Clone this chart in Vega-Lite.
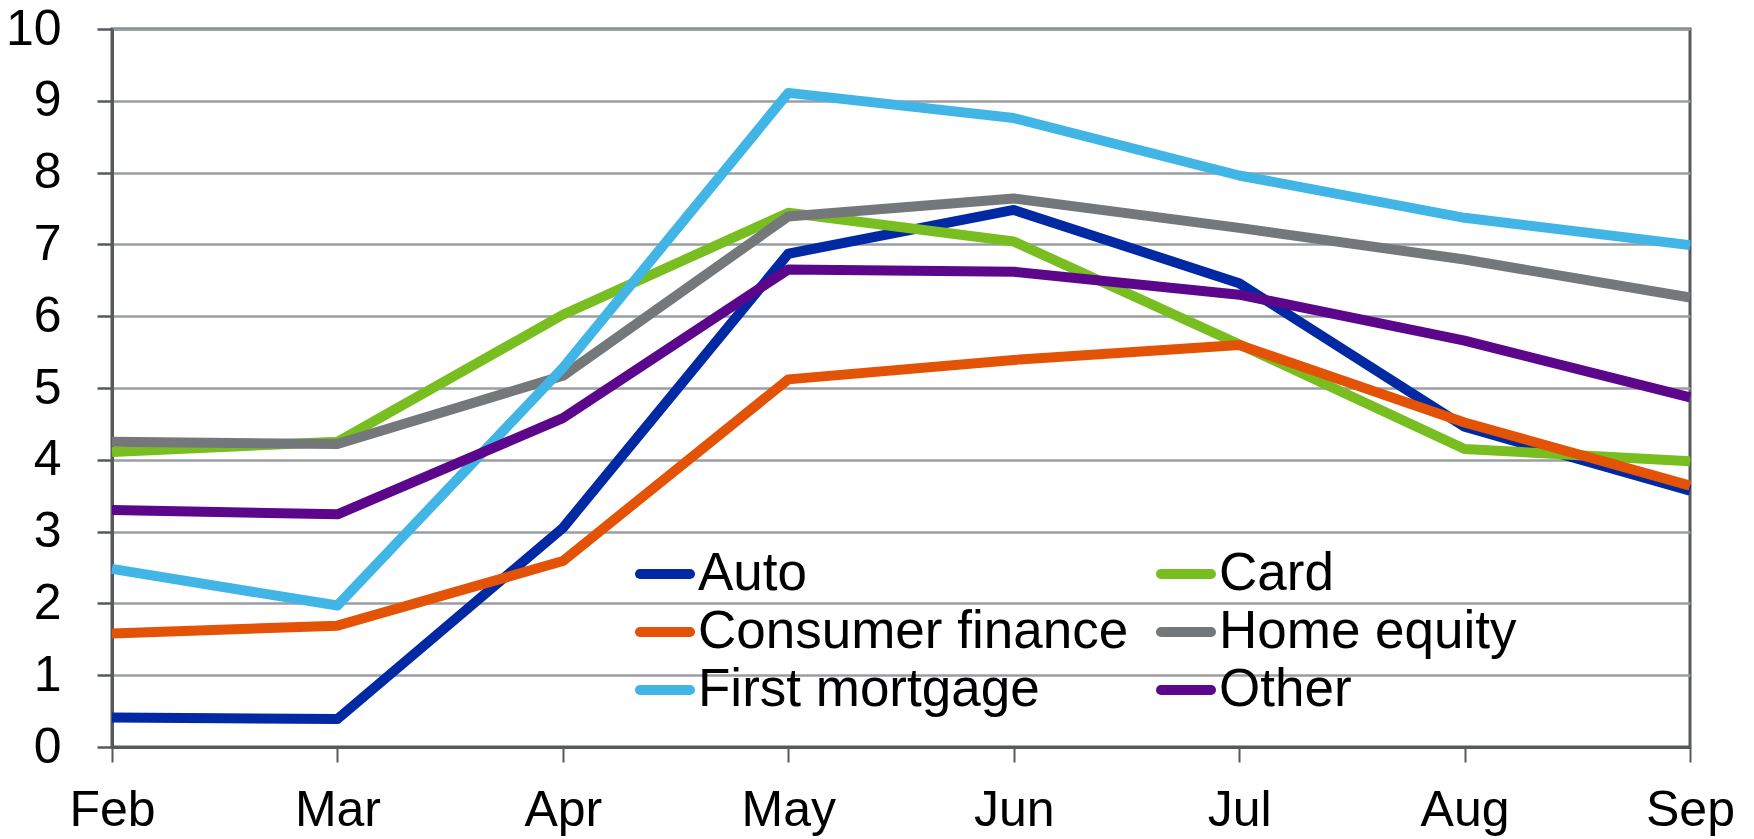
{
  "$schema": "https://vega.github.io/schema/vega-lite/v6.json",
  "width": 1578,
  "height": 718,
  "autosize": "none",
  "padding": {"left": 112, "top": 29, "right": 64, "bottom": 92},
  "background": "white",
  "config": {
    "font": "Liberation Sans",
    "view": {"stroke": "#55585c", "strokeWidth": 3}
  },
  "data": {
    "values": [
      {"month": "Feb", "series": "Auto", "value": 0.41},
      {"month": "Mar", "series": "Auto", "value": 0.39},
      {"month": "Apr", "series": "Auto", "value": 3.05},
      {"month": "May", "series": "Auto", "value": 6.87},
      {"month": "Jun", "series": "Auto", "value": 7.48},
      {"month": "Jul", "series": "Auto", "value": 6.46},
      {"month": "Aug", "series": "Auto", "value": 4.46},
      {"month": "Sep", "series": "Auto", "value": 3.57},
      {"month": "Feb", "series": "Card", "value": 4.11},
      {"month": "Mar", "series": "Card", "value": 4.25},
      {"month": "Apr", "series": "Card", "value": 6.02},
      {"month": "May", "series": "Card", "value": 7.44},
      {"month": "Jun", "series": "Card", "value": 7.04},
      {"month": "Jul", "series": "Card", "value": 5.61},
      {"month": "Aug", "series": "Card", "value": 4.15},
      {"month": "Sep", "series": "Card", "value": 3.98},
      {"month": "Feb", "series": "Consumer finance", "value": 1.58},
      {"month": "Mar", "series": "Consumer finance", "value": 1.69},
      {"month": "Apr", "series": "Consumer finance", "value": 2.59},
      {"month": "May", "series": "Consumer finance", "value": 5.12},
      {"month": "Jun", "series": "Consumer finance", "value": 5.39},
      {"month": "Jul", "series": "Consumer finance", "value": 5.60},
      {"month": "Aug", "series": "Consumer finance", "value": 4.52},
      {"month": "Sep", "series": "Consumer finance", "value": 3.64},
      {"month": "Feb", "series": "Home equity", "value": 4.25},
      {"month": "Mar", "series": "Home equity", "value": 4.22},
      {"month": "Apr", "series": "Home equity", "value": 5.17},
      {"month": "May", "series": "Home equity", "value": 7.39},
      {"month": "Jun", "series": "Home equity", "value": 7.64},
      {"month": "Jul", "series": "Home equity", "value": 7.23},
      {"month": "Aug", "series": "Home equity", "value": 6.79},
      {"month": "Sep", "series": "Home equity", "value": 6.26},
      {"month": "Feb", "series": "First mortgage", "value": 2.48},
      {"month": "Mar", "series": "First mortgage", "value": 1.97},
      {"month": "Apr", "series": "First mortgage", "value": 5.28},
      {"month": "May", "series": "First mortgage", "value": 9.11},
      {"month": "Jun", "series": "First mortgage", "value": 8.76},
      {"month": "Jul", "series": "First mortgage", "value": 7.96},
      {"month": "Aug", "series": "First mortgage", "value": 7.37},
      {"month": "Sep", "series": "First mortgage", "value": 6.99},
      {"month": "Feb", "series": "Other", "value": 3.30},
      {"month": "Mar", "series": "Other", "value": 3.24},
      {"month": "Apr", "series": "Other", "value": 4.58},
      {"month": "May", "series": "Other", "value": 6.65},
      {"month": "Jun", "series": "Other", "value": 6.62},
      {"month": "Jul", "series": "Other", "value": 6.30},
      {"month": "Aug", "series": "Other", "value": 5.66},
      {"month": "Sep", "series": "Other", "value": 4.87}
    ]
  },
  "mark": {"type": "line", "strokeWidth": 10, "strokeJoin": "round", "clip": false},
  "encoding": {
    "x": {
      "field": "month",
      "type": "ordinal",
      "sort": ["Feb", "Mar", "Apr", "May", "Jun", "Jul", "Aug", "Sep"],
      "scale": {"type": "point", "padding": 0},
      "axis": {
        "title": null,
        "labelAngle": 0,
        "labelFontSize": 50,
        "labelColor": "#000000",
        "labelPadding": 23,
        "tickSize": 15,
        "tickWidth": 2,
        "tickColor": "#55585c",
        "domainColor": "#55585c",
        "domainWidth": 3,
        "grid": false
      }
    },
    "y": {
      "field": "value",
      "type": "quantitative",
      "scale": {"domain": [0, 10], "nice": false, "zero": true},
      "axis": {
        "title": null,
        "values": [0, 1, 2, 3, 4, 5, 6, 7, 8, 9, 10],
        "labelFontSize": 50,
        "labelColor": "#000000",
        "labelPadding": 36,
        "tickSize": 15,
        "tickWidth": 2.5,
        "tickColor": "#55585c",
        "domainColor": "#55585c",
        "domainWidth": 3,
        "grid": true,
        "gridColor": "#9a9ea2",
        "gridWidth": 2.5
      }
    },
    "color": {
      "field": "series",
      "type": "nominal",
      "sort": ["Auto", "Card", "Consumer finance", "Home equity", "First mortgage", "Other"],
      "scale": {
        "domain": ["Auto", "Card", "Consumer finance", "Home equity", "First mortgage", "Other"],
        "range": ["#0029a3", "#78be20", "#e35205", "#75787b", "#41b6e6", "#5c068c"]
      },
      "legend": {
        "title": null,
        "orient": "none",
        "legendX": 523,
        "legendY": 515,
        "columns": 2,
        "direction": "horizontal",
        "padding": 0,
        "columnPadding": 12,
        "rowPadding": 1,
        "symbolType": "stroke",
        "symbolSize": 2500,
        "symbolStrokeWidth": 10,
        "labelFontSize": 53,
        "labelColor": "#000000",
        "labelOffset": 3,
        "labelLimit": 0,
        "encode": {
          "symbols": {"update": {"strokeCap": {"value": "round"}}}
        }
      }
    }
  }
}
